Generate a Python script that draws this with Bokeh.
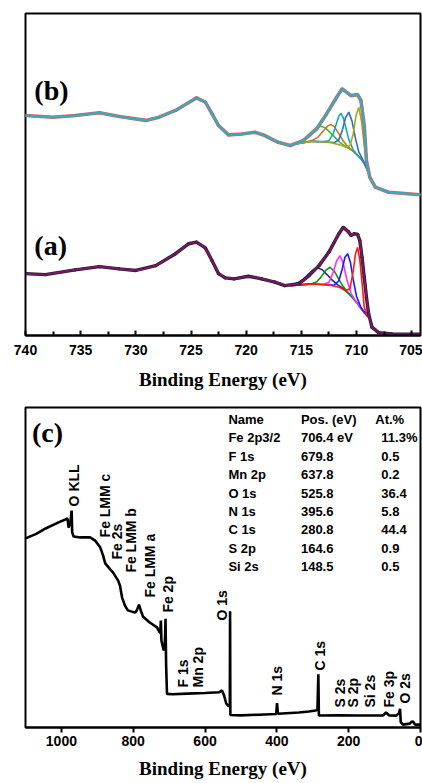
from math import pi
from bokeh.plotting import figure
from bokeh.layouts import column
from bokeh.models import Range1d, FixedTicker, Label, ColumnDataSource
from bokeh.core.properties import value
from bokeh.embed import file_html
from bokeh.resources import INLINE

SANS = "Liberation Sans"
SERIF = "Liberation Serif"

# ---------------- Fe 2p high-resolution spectra, panels (a) and (b) ----------------
hr_ticks = [740, 735, 730, 725, 720, 715, 710, 705]
hr_minor = [737.5, 732.5, 727.5, 722.5, 717.5, 712.5, 707.5]

# panel (b) envelope / data
b_env_ev = [740, 737.5, 735.5, 733.3, 731.5, 729.1, 727.9, 726.4, 724.9, 724.5, 723.7, 723.1,
            722.5, 721.6, 720.4, 719.2, 718.3, 717.1, 716.0, 714.8, 713.6, 712.7, 711.8, 711.3,
            710.5, 709.9, 709.6, 709.3, 709.1, 708.8, 708.3, 707.1, 704.2]
b_env_y = [68.3, 67.8, 68.3, 69.2, 68.0, 66.8, 67.8, 69.9, 73.0, 73.8, 72.5, 68.9,
           65.2, 62.3, 62.6, 63.1, 62.1, 60.0, 59.0, 60.6, 64.2, 68.9, 74.0, 76.6,
           74.5, 74.8, 73.0, 65.2, 54.3, 49.2, 46.1, 44.5, 43.7]

# panel (b) fitted components (drawn on background)
b_green_ev = [715.8, 715.0, 714.5, 714.0, 713.6, 713.2, 712.8, 712.4, 712.0, 711.5, 711.0, 710.5, 710.0, 709.5, 709.0, 708.8]
b_green_y = [59.4, 60.4, 61.8, 63.5, 64.6, 65.0, 64.4, 63.1, 61.7, 60.0, 58.7, 57.7, 56.3, 54.6, 51.5, 49.5]
b_orange_ev = [715.8, 714.5, 714.0, 713.5, 713.0, 712.6, 712.3, 712.0, 711.6, 711.2, 710.8, 710.3, 709.8, 709.3, 708.8]
b_orange_y = [59.3, 60.15, 60.6, 61.6, 63.6, 65.1, 65.5, 64.8, 62.7, 60.4, 58.7, 57.2, 55.6, 53.6, 49.5]
b_teal_ev = [715.8, 714.0, 713.0, 712.5, 712.1, 711.8, 711.6, 711.4, 711.2, 711.0, 710.7, 710.3, 709.8, 709.3, 708.8]
b_teal_y = [59.3, 60.3, 60.2, 60.5, 62.7, 66.0, 68.2, 69.0, 67.6, 65.0, 60.9, 57.6, 55.6, 53.6, 49.5]
b_blue_ev = [715.8, 714.0, 712.5, 712.0, 711.6, 711.3, 711.0, 710.7, 710.4, 710.1, 709.8, 709.4, 709.0, 708.8]
b_blue_y = [59.3, 60.3, 60.0, 59.9, 60.8, 63.6, 67.6, 69.4, 66.5, 61.3, 57.1, 54.4, 51.5, 49.5]
b_olive_ev = [715.8, 714.0, 712.5, 711.5, 711.0, 710.6, 710.3, 710.05, 709.8, 709.55, 709.3, 709.0, 708.8]
b_olive_y = [59.3, 60.3, 60.0, 59.2, 58.5, 58.9, 62.6, 68.2, 70.9, 66.6, 59.1, 52.6, 49.5]

# panel (a) envelope / data
a_env_ev = [740, 738.2, 735.5, 733.3, 731.5, 730.0, 728.2, 726.4, 725.2, 724.5, 723.7, 723.1,
            722.5, 721.9, 721.1, 719.8, 718.6, 717.4, 716.5, 715.2, 714.3, 713.4, 712.5, 711.6,
            711.2, 710.7, 710.5, 710.2, 709.9, 709.7, 709.5, 709.3, 709.1, 708.9, 708.6, 708.0,
            706.8, 704.2]
a_env_y = [19.2, 18.9, 20.4, 21.4, 20.7, 20.2, 21.7, 25.4, 28.5, 29.0, 27.2, 23.3,
           19.2, 17.9, 17.6, 18.4, 17.6, 16.6, 15.5, 16.1, 18.6, 21.7, 25.9, 31.6,
           33.6, 32.1, 31.1, 31.6, 31.4, 29.5, 24.3, 18.1, 11.9, 6.7, 2.6, 0.9,
           0.5, 0.4]

# panel (a) fitted components
a_navy_ev = [716.0, 715.3, 714.8, 714.3, 713.9, 713.5, 713.1, 712.7, 712.2, 711.7, 711.2, 710.5, 710.0, 709.5, 709.0, 708.85]
a_navy_y = [15.6, 16.4, 17.5, 19.2, 20.5, 21.0, 20.4, 19.0, 17.2, 15.7, 14.6, 12.3, 10.3, 8.0, 6.0, 5.5]
a_green_ev = [716.0, 714.5, 714.0, 713.6, 713.2, 712.8, 712.4, 712.0, 711.6, 711.2, 710.8, 710.3, 709.8, 709.3, 708.85]
a_green_y = [15.5, 16.0, 16.15, 16.7, 18.2, 20.2, 21.2, 19.9, 17.4, 15.2, 13.5, 11.5, 9.4, 7.0, 5.5]
a_magenta_ev = [716.0, 714.0, 713.0, 712.5, 712.1, 711.8, 711.5, 711.2, 710.9, 710.5, 710.0, 709.5, 709.0, 708.85]
a_magenta_y = [15.5, 16.0, 15.9, 16.5, 19.7, 23.2, 24.8, 22.4, 17.7, 13.1, 10.3, 8.0, 6.0, 5.5]
a_blue_ev = [716.0, 714.0, 712.5, 712.0, 711.6, 711.3, 711.05, 710.8, 710.55, 710.3, 710.0, 709.6, 709.2, 708.85]
a_blue_y = [15.5, 16.0, 15.7, 15.7, 17.0, 20.6, 24.3, 25.4, 22.7, 17.4, 12.2, 8.7, 6.9, 5.5]
a_red_ev = [716.0, 714.0, 712.5, 711.5, 711.0, 710.6, 710.3, 710.1, 709.9, 709.7, 709.5, 709.3, 709.0, 708.85]
a_red_y = [15.5, 16.0, 15.7, 14.9, 13.9, 14.5, 19.9, 25.2, 27.4, 23.5, 16.4, 8.8, 6.0, 5.5]

# ---------------- survey spectrum, panel (c) ----------------
sv_ticks = [1000, 800, 600, 400, 200, 0]
sv_ev = [1100, 1070, 1044, 1008, 989, 983, 980, 975, 971.5, 970, 966, 947, 920, 906, 892, 884,
         878, 864, 856, 842, 837, 831, 823, 815, 795, 790, 784, 779, 773, 754, 734, 729, 725,
         723, 721.5, 715, 712, 710, 708.5, 706, 690, 650, 600, 560, 553, 547, 541, 534, 531,
         530.3, 529.5, 500, 450, 402, 399.5, 397, 339, 311, 292, 287, 284.5, 283, 228, 173,
         104, 96, 87, 68, 60, 57, 55, 49, 30, 26, 21, 15, 0]
sv_y = [59.1, 60.5, 62.2, 64.1, 65.0, 65.3, 62.5, 64.0, 67.8, 61.0, 59.7, 59.4, 59.4, 58.4, 56.3, 53.8,
        51.3, 49.4, 48.4, 45.9, 44.4, 40.6, 38.1, 36.6, 35.9, 36.6, 38.4, 36.6, 34.7, 32.8, 31.3, 30.3, 29.5,
        33.4, 27.2, 24.1, 26.0, 34.0, 20.0, 10.5, 10.4, 10.6, 10.8, 11.0, 11.6, 10.0, 7.5, 6.6, 6.9,
        36.3, 3.9, 3.8, 4.0, 4.2, 7.6, 4.3, 4.7, 5.0, 5.3, 5.5, 16.6, 3.75, 3.8, 3.75,
        3.8, 4.7, 3.75, 3.7, 4.5, 5.8, 1.7, 0.9, 1.2, 1.7, 1.9, 0.9, 0.9]

sv_label_text = ["O KLL", "Fe LMM c", "Fe 2s", "Fe LMM b", "Fe LMM a", "Fe 2p", "O 1s", "F 1s",
                 "Mn 2p", "N 1s", "C 1s", "S 2s", "S 2p", "Si 2s", "Fe 3p", "O 2s"]
sv_label_ev = [964, 878, 845, 807, 754, 704, 553, 662, 620, 399, 279, 225, 187, 141, 88, 42]
sv_label_base = [69.1, 59.4, 52.5, 48.4, 40.6, 35.9, 33.4, 12.5, 12.5, 10.0, 17.8, 6.25, 6.25, 6.25, 6.25, 7.5]

table_header = ["Name", "Pos. (eV)", "At.%"]
table_names = ["Fe 2p3/2", "F 1s", "Mn 2p", "O 1s", "N 1s", "C 1s", "S 2p", "Si 2s"]
table_pos = ["706.4 eV", "679.8", "637.8", "525.8", "395.6", "280.8", "164.6", "148.5"]
table_at = ["11.3%", "0.5", "0.2", "36.4", "5.8", "44.4", "0.9", "0.5"]


def style_axis(ax, tick_in, tick_out, minor_in, standoff, label_standoff):
    ax.axis_line_width = 2
    ax.axis_line_color = "black"
    ax.major_tick_line_width = 2
    ax.minor_tick_line_width = 2
    ax.major_tick_line_color = "black"
    ax.minor_tick_line_color = "black" if minor_in else None
    ax.major_tick_in = tick_in
    ax.major_tick_out = tick_out
    ax.minor_tick_in = minor_in
    ax.minor_tick_out = 0
    ax.major_label_text_font = SANS
    ax.major_label_text_font_style = "bold"
    ax.major_label_text_font_size = "14px"
    ax.major_label_text_color = "black"
    ax.major_label_standoff = standoff
    ax.axis_label = "Binding Energy (eV)"
    ax.axis_label_text_font = SERIF
    ax.axis_label_text_font_style = "bold"
    ax.axis_label_text_font_size = "19px"
    ax.axis_label_text_color = "black"
    ax.axis_label_standoff = label_standoff


# ---------- top figure ----------
p1 = figure(width=422, height=397, x_range=Range1d(740, 704.2), y_range=Range1d(0, 100),
            output_backend="svg", toolbar_location=None,
            min_border_left=23, min_border_right=2, min_border_top=13, min_border_bottom=62)
p1.xaxis.ticker = FixedTicker(ticks=hr_ticks, minor_ticks=hr_minor)
style_axis(p1.xaxis[0], 5, 0, 4, 9, 11)
p1.yaxis.visible = False
p1.grid.visible = False
p1.outline_line_color = "black"
p1.outline_line_width = 2
p1.outline_line_alpha = 1

# (b)
b_comps = [(b_green_ev, b_green_y, "#2fc02f"), (b_orange_ev, b_orange_y, "#c8781e"),
           (b_teal_ev, b_teal_y, "#14a8b4"), (b_blue_ev, b_blue_y, "#2f6cc4"),
           (b_olive_ev, b_olive_y, "#a8a818")]
for xs, ys, c in b_comps:
    p1.line(xs, ys, line_color=c, line_width=1.6)
p1.line(b_env_ev, b_env_y, line_color="#e06060", line_width=3.6)
p1.scatter(b_env_ev, b_env_y, marker="circle", size=3, fill_color="#e05050", line_color=None)
p1.line(b_env_ev, b_env_y, line_color="#2bb0bc", line_width=2.2)

# (a)
a_comps = [(a_navy_ev, a_navy_y, "#1e2a8c"), (a_green_ev, a_green_y, "#159015"),
           (a_magenta_ev, a_magenta_y, "#ff30ff"), (a_blue_ev, a_blue_y, "#1a1aff"),
           (a_red_ev, a_red_y, "#ff1a1a")]
for xs, ys, c in a_comps:
    p1.line(xs, ys, line_color=c, line_width=1.6)
p1.line(a_env_ev, a_env_y, line_color="#222222", line_width=3.4)
p1.scatter(a_env_ev, a_env_y, marker="circle", size=3.2, fill_color="#111111", line_color=None)
p1.line(a_env_ev, a_env_y, line_color="#7a1568", line_width=2.0)

for txt, yy in [("(b)", 76.1), ("(a)", 28.0)]:
    p1.add_layout(Label(x=739.2, y=yy, text=txt, text_font=SERIF, text_font_style="bold",
                        text_font_size="28px", text_baseline="middle", text_align="left",
                        text_color="black"))

# ---------- bottom figure ----------
p2 = figure(width=422, height=385, x_range=Range1d(1100, 0), y_range=Range1d(0, 100),
            output_backend="svg", toolbar_location=None,
            min_border_left=25, min_border_right=0, min_border_top=10, min_border_bottom=55)
p2.xaxis.ticker = FixedTicker(ticks=sv_ticks)
style_axis(p2.xaxis[0], 0, 5, 0, 3, 9)
p2.yaxis.visible = False
p2.grid.visible = False
p2.outline_line_color = "black"
p2.outline_line_width = 2
p2.outline_line_alpha = 1

p2.line(sv_ev, sv_y, line_color="black", line_width=2.6)

lab_src = ColumnDataSource(dict(x=sv_label_ev, y=sv_label_base, t=sv_label_text))
p2.text(x="x", y="y", text="t", source=lab_src, angle=pi / 2, text_align="left",
        text_baseline="middle", text_font=value(SANS), text_font_style="bold",
        text_font_size="14px", text_color="black")

# composition table
col_x = [535, 333, 126]
val_x = [535, 333, 109]
row_top = 96.25
row_step = 5.75
hdr_src = ColumnDataSource(dict(x=col_x, y=[row_top] * 3, t=table_header))
p2.text(x="x", y="y", text="t", source=hdr_src, text_align="left", text_baseline="middle",
        text_font=value(SANS), text_font_style="bold", text_font_size="13px", text_color="black")
rows_y = [row_top - row_step * (i + 1) for i in range(len(table_names))]
for col, cx in zip([table_names, table_pos, table_at], val_x):
    src = ColumnDataSource(dict(x=[cx] * len(col), y=rows_y, t=col))
    p2.text(x="x", y="y", text="t", source=src, text_align="left", text_baseline="middle",
            text_font=value(SANS), text_font_style="bold", text_font_size="13px", text_color="black")

p2.add_layout(Label(x=1082, y=92.2, text="(c)", text_font=SERIF, text_font_style="bold",
                    text_font_size="28px", text_baseline="middle", text_align="left",
                    text_color="black"))

layout = column(p1, p2, spacing=0)
open("out.html", "w").write(file_html(layout, INLINE))
